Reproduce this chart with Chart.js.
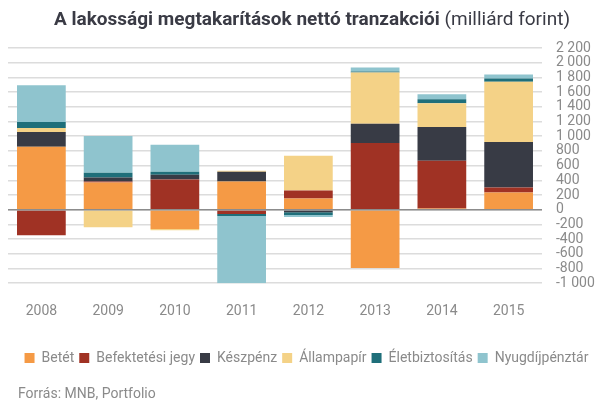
<!DOCTYPE html>
<html>
<head>
<meta charset="utf-8">
<script src="https://cdn.jsdelivr.net/npm/chart.js@4"></script>
<style>
  body { margin: 0; background: #fff; }
  canvas { display: block; }
</style>
</head>
<body>
<canvas id="chart" width="605" height="405"></canvas>
<script>
// Years and net transactions (billion HUF) per savings type
const years = ["2008", "2009", "2010", "2011", "2012", "2013", "2014", "2015"];
const betet = [855, 369, -261, 382, 153, -792, 18, 234];
const befektetesiJegy = [-346, 14, 410, -58, 108, 909, 648, 67];
const keszpenz = [202, 54, 67, 135, -36, 261, 459, 621];
const allampapir = [54, -238, -18, 13, 472, 698, 324, 819];
const eletbiztositas = [81, 67, 40, -27, -36, 13, 54, 45];
const nyugdijpenztar = [500, 500, 365, -915, -27, 54, 67, 54];

const yTicksMin = -1000;
const yTicksMax = 2200;

function formatNum(v) {
    const s = Math.abs(v).toString().replace(/\B(?=(\d{3})+(?!\d))/g, " ");
    return (v < 0 ? "-" : "") + s;
}

// title (bold + normal part) and source line
const textPlugin = {
    id: "texts",
    afterDraw(chart) {
        const c = chart.ctx;
        c.save();
        c.textBaseline = "alphabetic";
        c.textAlign = "left";
        const bold = "A lakossági megtakarítások nettó tranzakciói";
        const normal = " (milliárd forint)";
        c.font = "bold 19px Roboto";
        const w1 = c.measureText(bold).width;
        c.font = "19px Roboto";
        const w2 = c.measureText(normal).width;
        let x = 312 - (w1 + w2) / 2;
        c.fillStyle = "#3a3b45";
        c.font = "bold 19px Roboto";
        c.fillText(bold, x, 25);
        c.font = "19px Roboto";
        c.fillText(normal, x + w1, 25);

        c.fillStyle = "#8a8a8a";
        c.font = "14px Roboto";
        c.fillText("Forrás: MNB, Portfolio", 18, 398);
        c.restore();
    },
    afterDatasetsDraw(chart) {
        // zero line on top of the bars
        const y = chart.scales.y.getPixelForValue(0);
        const c = chart.ctx;
        c.save();
        c.strokeStyle = "#8c8c8c";
        c.lineWidth = 1.5;
        c.beginPath();
        c.moveTo(chart.chartArea.left, y);
        c.lineTo(chart.chartArea.right, y);
        c.stroke();
        c.restore();
    }
};

const ctx = document.getElementById("chart").getContext("2d");
const chart = new Chart(ctx, {
    type: "bar",
    data: {
        labels: years,
        datasets: [
            { label: "Betét", data: betet, backgroundColor: "#f59a45" },
            { label: "Befektetési jegy", data: befektetesiJegy, backgroundColor: "#a03224" },
            { label: "Készpénz", data: keszpenz, backgroundColor: "#383b45" },
            { label: "Állampapír", data: allampapir, backgroundColor: "#f4d287" },
            { label: "Életbiztosítás", data: eletbiztositas, backgroundColor: "#1f6f7a" },
            { label: "Nyugdíjpénztár", data: nyugdijpenztar, backgroundColor: "#8fc4ce" }
        ]
    },
    options: {
        responsive: false,
        animation: false,
        layout: { padding: { top: 48, left: 8, right: 0, bottom: 30 } },
        datasets: { bar: { barPercentage: 0.73, categoryPercentage: 1 } },
        scales: {
            x: {
                stacked: true,
                grid: { display: false },
                border: { display: false },
                ticks: { color: "#8a8a8a", font: { family: "Roboto", size: 14 }, padding: 12 },
                afterFit: (scale) => { scale.height += 14; }
            },
            y: {
                stacked: true,
                position: "right",
                min: yTicksMin,
                max: yTicksMax,
                border: { display: false },
                grid: { color: "#dcdcdc", lineWidth: 1.5, drawTicks: false },
                ticks: {
                    stepSize: 200,
                    autoSkip: false,
                    color: "#8a8a8a",
                    font: { family: "Roboto", size: 14 },
                    padding: 14,
                    callback: (v) => formatNum(v)
                },
                afterFit: (scale) => { scale.width = 63; }
            }
        },
        plugins: {
            legend: {
                position: "bottom",
                labels: {
                    boxWidth: 10,
                    boxHeight: 10,
                    padding: 5,
                    color: "#8a8a8a",
                    font: { family: "Roboto", size: 14 }
                }
            },
            tooltip: { enabled: false }
        }
    },
    plugins: [textPlugin]
});
</script>
</body>
</html>
